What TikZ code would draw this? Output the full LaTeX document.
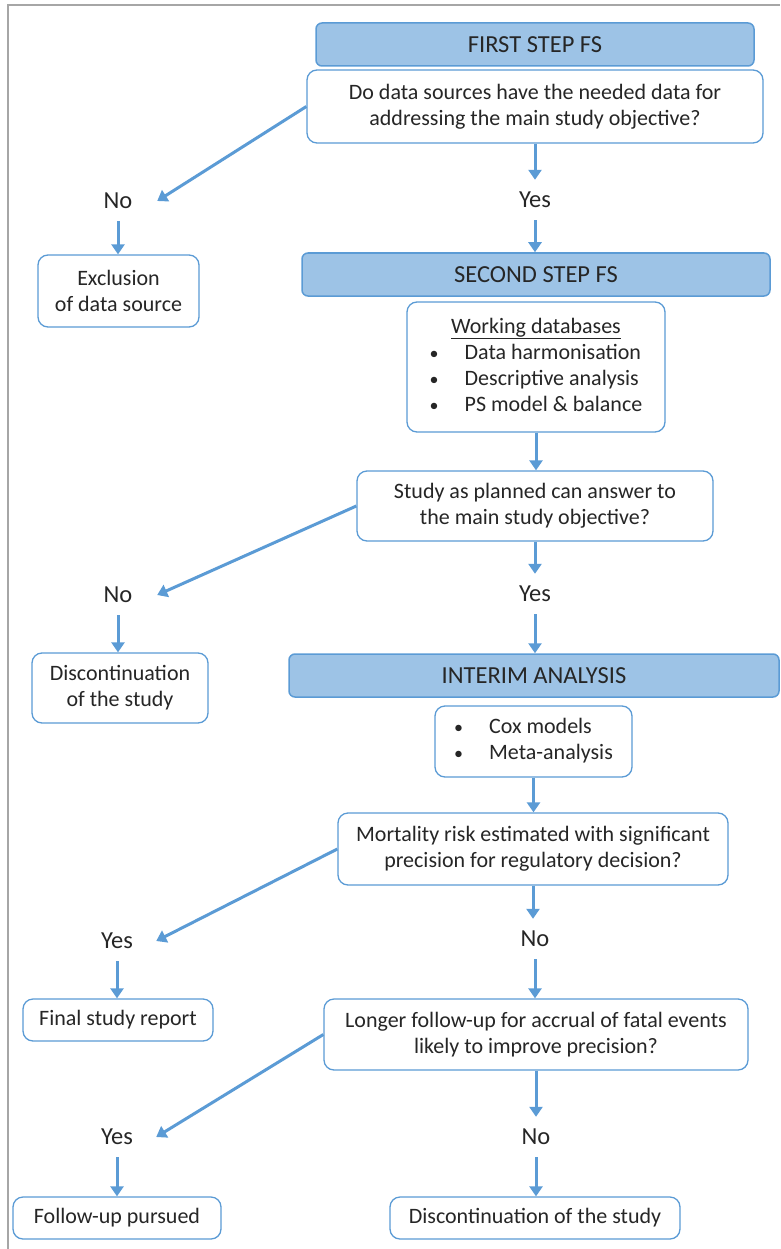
\documentclass[tikz,border=0pt]{standalone}
\usepackage{fontspec}
\setmainfont{Carlito}
\usepackage{tikz}
\usetikzlibrary{positioning,arrows.meta}
\usepackage{xcolor}
\definecolor{headblue}{HTML}{9DC3E6}
\definecolor{edgeblue}{HTML}{5B9BD5}
\definecolor{framegray}{HTML}{A6A6A6}
\newcommand{\itemdot}{{\fontsize{18}{26}\selectfont\textbullet}}

\begin{document}
\begin{tikzpicture}[x=1pt, y=-1pt,
    every node/.style={font=\fontsize{22}{26}\selectfont, text=black!85},
    header/.style={draw=edgeblue, fill=headblue, line width=1.5pt,
      rounded corners=6pt, inner sep=0pt, font=\fontsize{24.5}{28}\selectfont},
    question/.style={draw=edgeblue, fill=white, line width=1.3pt,
      rounded corners=10pt, align=center, inner sep=0pt},
    answer/.style={minimum width=78pt, minimum height=40pt, inner sep=0pt,
      font=\fontsize{24.5}{28}\selectfont},
    flow/.style={edgeblue, line width=3pt,
      -{Triangle[width=13pt,length=10pt]}}]
    \useasboundingbox (0,0) rectangle (780,1249);

    % frame
    \draw[framegray, line width=1.5pt] (8,1249) -- (8,5) -- (780,5);

    % first step
    \node[header, minimum width=438pt, minimum height=43pt] (first) at (535,44.5) {FIRST STEP FS};
    \node[question, minimum width=456pt, minimum height=73pt] (q1) at (535,106.5)
      {Do data sources have the needed data for\\addressing the main study objective?};
    \node[answer] (yes1) at (535,200) {Yes};
    \node[answer] (no1) at (118,201) {No};
    \node[question, minimum width=161pt, minimum height=72pt] (excl) at (118.5,291)
      {Exclusion\\of data source};

    % second step
    \node[header, minimum width=468pt, minimum height=43pt] (second) at (536,274.5) {SECOND STEP FS};
    \node[question, minimum width=258pt, minimum height=130pt] (work) at (536,367)
      {\begin{tabular}{@{}p{35pt}@{}l@{}}
        \multicolumn{2}{@{}c@{}}{\underline{Working databases}}\\
        \itemdot & Data harmonisation\\
        \itemdot & Descriptive analysis\\
        \itemdot & PS model \& balance
      \end{tabular}};
    \node[question, minimum width=356pt, minimum height=70pt] (q2) at (535,506)
      {Study as planned can answer to\\the main study objective?};
    \node[answer] (no2) at (118,595) {No};
    \node[question, minimum width=176pt, minimum height=70pt] (stop1) at (120,688)
      {Discontinuation\\of the study};
    \node[answer] (yes2) at (535,594) {Yes};

    % interim analysis
    \node[header, minimum width=490pt, minimum height=43pt] (interim) at (534,675.5) {INTERIM ANALYSIS};
    \node[question, minimum width=197pt, minimum height=71pt] (cox) at (533.5,741.5)
      {\begin{tabular}{@{}p{35pt}@{}l@{}}
        \itemdot & Cox models\\
        \itemdot & Meta-analysis
      \end{tabular}};
    \node[question, minimum width=390pt, minimum height=72pt] (q3) at (533,849)
      {Mortality risk estimated with significant\\precision for regulatory decision?};
    \node[answer] (yes3) at (117,941) {Yes};
    \node[question, minimum width=190pt, minimum height=42pt] (final) at (118,1020) {Final study report};
    \node[answer] (no3) at (535,939) {No};
    \node[question, minimum width=424pt, minimum height=71pt] (q4) at (536,1034.5)
      {Longer follow-up for accrual of fatal events\\likely to improve precision?};
    \node[answer] (yes4) at (117,1137) {Yes};
    \node[question, minimum width=208pt, minimum height=42pt] (pursued) at (117,1218) {Follow-up pursued};
    \node[answer] (no4) at (536,1137) {No};
    \node[question, minimum width=290pt, minimum height=42pt] (stop2) at (535,1218) {Discontinuation of the study};

    % arrows
    \draw[flow] (q1.south) -- (q1.south |- yes1.north);
    \draw[flow] (yes1.south) -- (yes1.south |- second.north);
    \draw[flow] (q1.west) -- (no1.east);
    \draw[flow] (no1.south) -- (no1.south |- excl.north);
    \draw[flow] (work.south) -- (work.south |- q2.north);
    \draw[flow] (q2.west) -- (no2.east);
    \draw[flow] (no2.south) -- (no2.south |- stop1.north);
    \draw[flow] (q2.south) -- (q2.south |- yes2.north);
    \draw[flow] (yes2.south) -- (yes2.south |- interim.north);
    \draw[flow] (cox.south) -- (cox.south |- q3.north);
    \draw[flow] (q3.west) -- (yes3.east);
    \draw[flow] (yes3.south) -- (yes3.south |- final.north);
    \draw[flow] (q3.south) -- (q3.south |- no3.north);
    \draw[flow] (no3.south) -- (no3.south |- q4.north);
    \draw[flow] (q4.west) -- (yes4.east);
    \draw[flow] (yes4.south) -- (yes4.south |- pursued.north);
    \draw[flow] (q4.south) -- (q4.south |- no4.north);
    \draw[flow] (no4.south) -- (no4.south |- stop2.north);
\end{tikzpicture}
\end{document}
